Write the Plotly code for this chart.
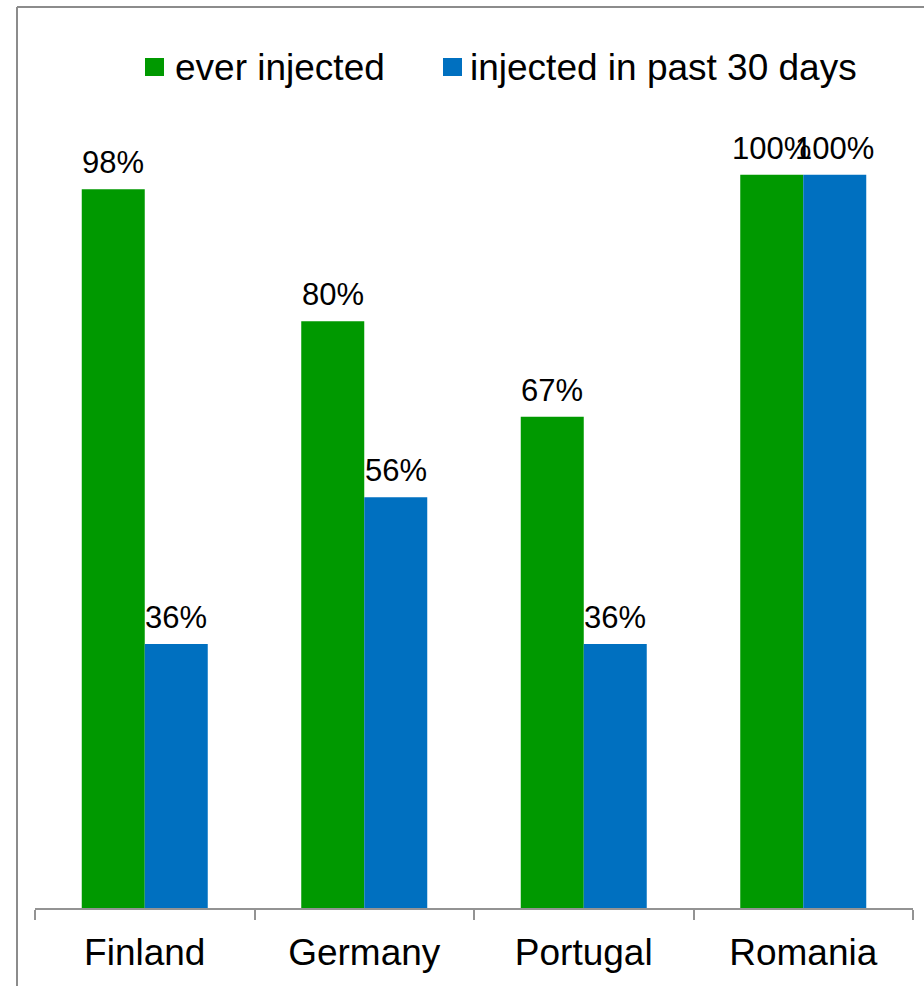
import plotly.graph_objects as go

countries = ["Finland", "Germany", "Portugal", "Romania"]
ever_injected = [0.98, 0.80, 0.67, 1.00]
past_30_days = [0.36, 0.56, 0.36, 1.00]
series_names = ["ever injected", "injected in past 30 days"]

GREEN = "#009900"
BLUE = "#0070C0"
FONT = "Liberation Sans, Arial, sans-serif"

# plot area in pixels, used to place the legend and frame in paper units
L, R, T, B = 35, 11, 28, 78
W, H = 924, 986
PW, PH = W - L - R, H - T - B


def px_x(x):
    return (x - L) / PW


def px_y(y):
    return (H - B - y) / PH


fig = go.Figure()
fig.add_trace(go.Bar(x=countries, y=ever_injected, name=series_names[0],
                     marker=dict(color=GREEN, line=dict(width=0))))
fig.add_trace(go.Bar(x=countries, y=past_30_days, name=series_names[1],
                     marker=dict(color=BLUE, line=dict(width=0))))

# value labels above each bar
bar_px = 63
for series, shift in ((ever_injected, -bar_px / 2), (past_30_days, bar_px / 2)):
    for c, v in zip(countries, series):
        fig.add_annotation(x=c, y=v, text=f"{v:.0%}", showarrow=False,
                           xshift=shift, yshift=7, yanchor="bottom",
                           font=dict(size=31, color="#000000", family=FONT))

# legend: colour key squares with labels
legend_items = [(series_names[0], GREEN, 145, 175), (series_names[1], BLUE, 443, 470)]
for name, color, sq_x, tx_x in legend_items:
    fig.add_shape(type="rect", xref="paper", yref="paper",
                  x0=px_x(sq_x), x1=px_x(sq_x + 19), y0=px_y(76), y1=px_y(58),
                  fillcolor=color, line=dict(width=0))
    fig.add_annotation(xref="paper", yref="paper", x=px_x(tx_x - 2), y=px_y(67),
                       xanchor="left", yanchor="middle", showarrow=False,
                       text=name, font=dict(size=37, color="#000000", family=FONT))

# chart frame (left and top edges)
fig.add_shape(type="line", xref="paper", yref="paper",
              x0=px_x(17), x1=px_x(17), y0=px_y(1000), y1=px_y(7),
              line=dict(color="#8c8c8c", width=2))
fig.add_shape(type="line", xref="paper", yref="paper",
              x0=px_x(17), x1=px_x(940), y0=px_y(7), y1=px_y(7),
              line=dict(color="#8c8c8c", width=2))

fig.update_layout(
    width=W, height=H,
    margin=dict(l=L, r=R, t=T, b=B),
    paper_bgcolor="white", plot_bgcolor="white",
    barmode="group", bargap=0.426, bargroupgap=0,
    font=dict(family=FONT, color="#000000"),
    showlegend=False,
    xaxis=dict(showline=True, linecolor="#939393", linewidth=2,
               ticks="outside", tickson="boundaries", ticklen=10,
               tickcolor="#939393", tickwidth=2, ticklabelstandoff=11,
               tickfont=dict(size=37, family=FONT), showgrid=False),
    yaxis=dict(range=[0, 1.2], visible=False, showgrid=False, zeroline=False),
)

fig.write_html("out.html")
